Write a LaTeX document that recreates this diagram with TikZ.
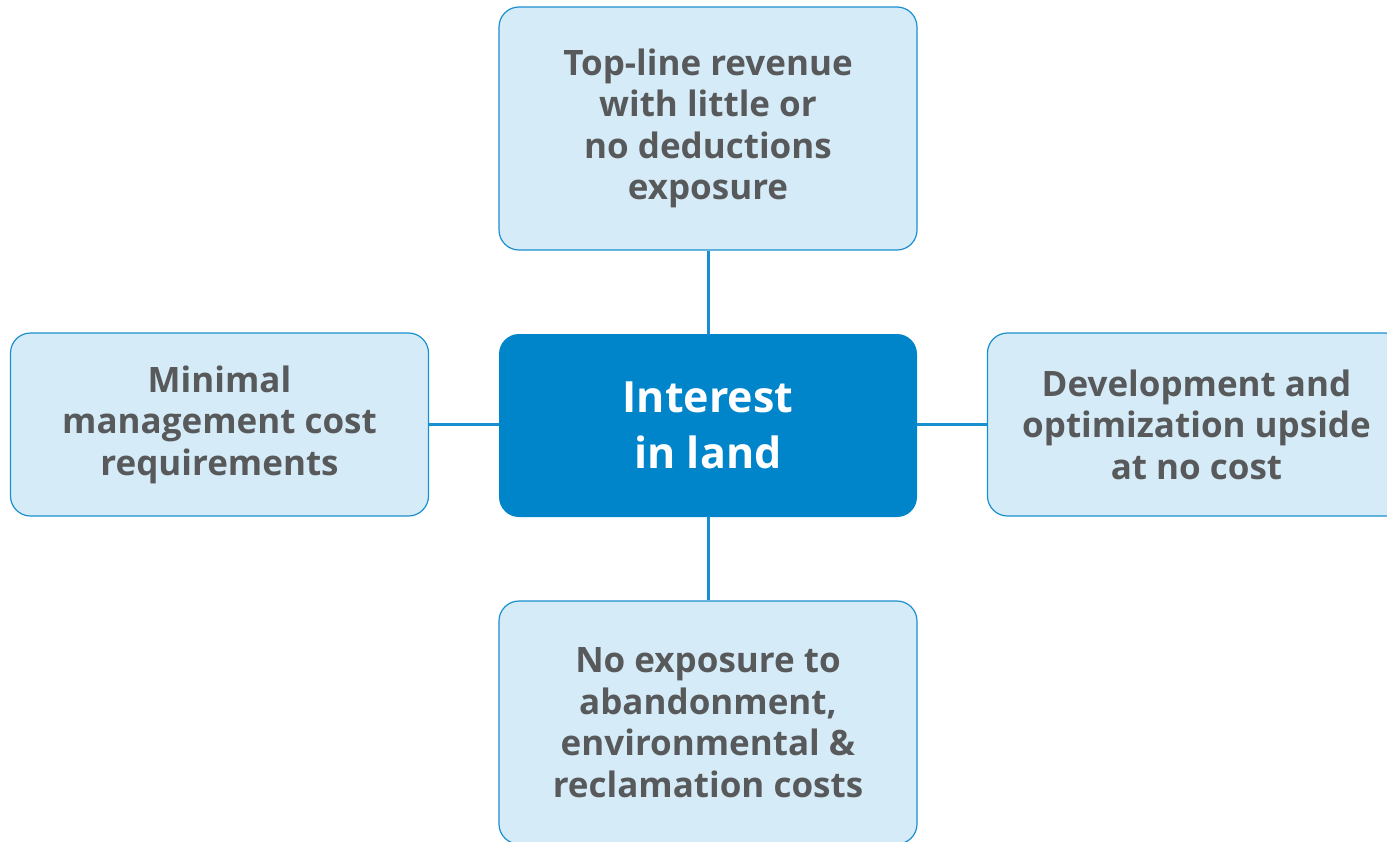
\documentclass[tikz,border=0pt]{standalone}
\usepackage{fontspec}
\setmainfont{Open Sans}[BoldFont={* Bold}]
\definecolor{lightfill}{HTML}{D5ECF8}
\definecolor{edgeblue}{HTML}{1A8FD0}
\definecolor{darkfill}{HTML}{0085CA}
\definecolor{txtgray}{HTML}{58595B}
\tikzset{
  leaf/.style={draw=edgeblue, line width=1.2pt, fill=lightfill, rounded corners=20pt,
    minimum width=418pt, inner sep=0pt, align=center, text=txtgray,
    font=\fontsize{35}{41.5}\selectfont\bfseries},
  hub/.style={fill=darkfill, rounded corners=20pt, minimum width=418pt, minimum height=183pt,
    inner sep=0pt, align=center, text=white, font=\fontsize{43}{56}\selectfont\bfseries},
  link/.style={draw=edgeblue, line width=3pt}
}
\begin{document}
\begin{tikzpicture}[x=1pt,y=-1pt]
\useasboundingbox (0,0) rectangle (1387,841);
\clip (0,0) rectangle (1387,841);
\node[hub] (c) at (708,425.5) {Interest\\in land};
\node[leaf, minimum height=243pt] (t) at (708,128.5) {Top-line revenue\\with little or\\no deductions\\exposure};
\node[leaf, minimum height=183pt] (l) at (219.5,424.5) {Minimal\\management cost\\requirements};
\node[leaf, minimum height=183pt] (r) at (1196.5,424.5) {Development and\\optimization upside\\at no cost};
\node[leaf, minimum height=243pt] (b) at (708,722.5) {No exposure to\\abandonment,\\environmental \&\\reclamation costs};
\draw[link] (t.south) -- (c.north);
\draw[link] (c.south) -- (b.north);
\draw[link] (l.east) -- (l.east -| c.west);
\draw[link] (c.east |- r.west) -- (r.west);
\end{tikzpicture}
\end{document}
